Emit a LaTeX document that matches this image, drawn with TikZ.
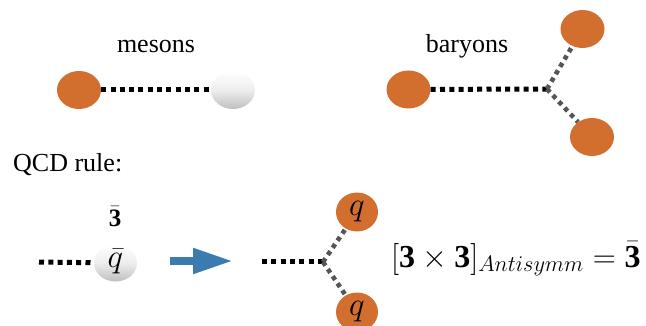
\RequirePackage{fix-cm}
\documentclass[tikz,border=0pt]{standalone}
\usepackage{fontspec}
\setmainfont{Liberation Serif}
\usetikzlibrary{shapes.geometric,arrows.meta}
\definecolor{quarkorange}{RGB}{210,111,47}
\definecolor{arrowblue}{RGB}{60,123,176}
\definecolor{branchgray}{RGB}{85,85,85}
\tikzset{
  orangeball/.style={ellipse,inner sep=0pt,minimum width=44pt,minimum height=38pt,fill=quarkorange},
  grayball/.style={ellipse,inner sep=0pt,minimum width=44pt,minimum height=38pt,
     top color=white,bottom color=gray!50,middle color=gray!14},
  gluon/.style={line width=5pt,dash pattern=on 5pt off 4.3pt,black},
  branch/.style={line width=4.6pt,dash pattern=on 4.4pt off 4.2pt,branchgray},
  label/.style={font=\fontsize{26}{30}\selectfont,inner sep=0pt},
  qlabel/.style={font=\fontsize{33}{38}\selectfont,inner sep=0pt},
  mathlabel/.style={font=\fontsize{25}{30}\selectfont,inner sep=0pt},
  bigmath/.style={font=\fontsize{32}{38}\selectfont,inner sep=0pt},
}
\begin{document}
\begin{tikzpicture}[x=1pt,y=-1pt]
\useasboundingbox (0,0) rectangle (646,326);
\clip (0,0) rectangle (646,326);
% mesons
\node[label,anchor=base] (mes) at (156,53) {mesons};
\node[orangeball] (m1) at (79,90) {};
\node[grayball] (m2) at (233,90) {};
\draw[gluon] (m1) -- (m2);
% baryons
\node[label,anchor=base] (bar) at (467,53) {baryons};
\node[orangeball] (b1) at (408.5,89.5) {};
\node[orangeball] (b2) at (582.5,29) {};
\node[orangeball] (b3) at (592,137) {};
\coordinate (v1) at (547,89);
\draw[gluon] (b1) -- (v1);
\draw[branch] (v1) -- (b2);
\draw[branch] (v1) -- (b3);
% QCD rule
\node[label,anchor=base west] (rule) at (13,172) {QCD rule:};
% bottom left
\node[grayball,minimum width=43pt,minimum height=37pt] (qb) at (115.5,263) {};
\node[qlabel] (qbt) at (115.5,261) {$\bar q$};
\node[mathlabel,anchor=base] (three) at (115,226) {$\bar{\mathbf{3}}$};
\coordinate (l0) at (39,262);
\draw[gluon] (l0) -- (qb);
% arrow
\coordinate (a0) at (170,261);
\coordinate (a1) at (233,261);
\draw[arrowblue,line width=8pt,-{Triangle[length=40pt,width=24pt]}] (a0) -- (a1);
% bottom right
\coordinate (r0) at (262,262);
\coordinate (v2) at (323,262);
\node[orangeball,minimum width=42pt,minimum height=39pt] (q1) at (357,212) {};
\node[orangeball,minimum width=42pt,minimum height=39pt] (q2) at (357,312) {};
\node[qlabel] (q1t) at (357,212) {$q$};
\node[qlabel] (q2t) at (357,312) {$q$};
\draw[gluon] (r0) -- (v2);
\draw[branch] (v2) -- (q1);
\draw[branch] (v2) -- (q2);
% formula
\node[bigmath,anchor=base west] (form) at (391,267) {$[\mathbf{3}\times\mathbf{3}]_{Antisymm}=\bar{\mathbf{3}}$};
\end{tikzpicture}
\end{document}
